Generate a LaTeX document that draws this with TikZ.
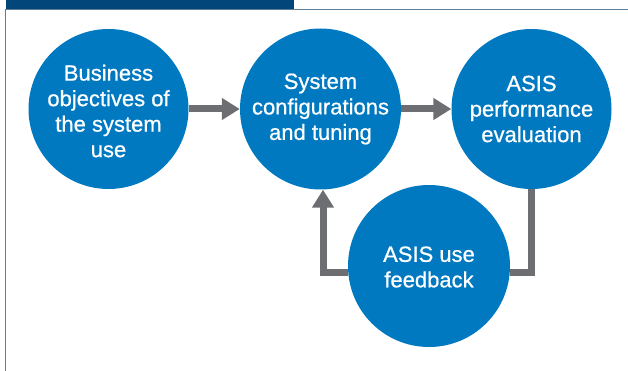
\documentclass[tikz,border=0pt]{standalone}
\usepackage{fontspec}
\setmainfont{Liberation Sans}
\newfontfamily\labelfont{Liberation Sans}[RawFeature={embolden=0.7}]
\usetikzlibrary{arrows.meta}
\definecolor{bubbleblue}{HTML}{0079C1}
\definecolor{flowgray}{HTML}{6D6E71}
\definecolor{barnavy}{HTML}{03467A}
\definecolor{rulegray}{HTML}{5F7F99}
\tikzset{
  bubble/.style={circle, fill=bubbleblue, draw=none, inner sep=0pt, minimum size=#1},
  bubble/.default=160pt,
  bubbletext/.style={text=white, align=center, font=\labelfont\fontsize{22}{25.5}\selectfont},
  flow/.style={draw=flowgray, line width=7pt},
  flowtip/.style={-{Triangle[length=18pt,width=21pt]}},
}
\begin{document}
\begin{tikzpicture}[x=1pt,y=-1pt]
  \useasboundingbox (0,0) rectangle (628,371);
  % frame: heading bar, top rule and left rule
  \fill[barnavy] (5.5,0) rectangle (294,8.6);
  \draw[rulegray, line width=1.3pt] (5,9.4) -- (628,9.4);
  \draw[rulegray, line width=1.4pt] (5.6,9) -- (5.6,371);

  % process stages
  \node[bubble] (c1) at (108.5,109) {};
  \node[bubble=161pt] (c2) at (320.5,109) {};
  \node[bubble] (c3) at (531.5,109) {};
  \node[bubble=162pt] (c4) at (429,266) {};

  % connectors
  \draw[flow, flowtip] (c1.east) -- (c2.west);
  \draw[flow, flowtip] (c2.east) -- (c3.west);
  \draw[flow, flowtip] ([yshift=-6pt]c4.west) -| ([xshift=2.5pt]c2.south);
  \draw[flow] (c3.south) |- ([yshift=-6pt]c4.east);

  % labels
  \node[bubbletext] (t1) at ([yshift=-2pt]c1.center) {Business\\objectives of\\the system\\use};
  \node[bubbletext] (t2) at (c2.center) {System\\configurations\\and tuning};
  \node[bubbletext] (t3) at (c3.center) {ASIS\\performance\\evaluation};
  \node[bubbletext] (t4) at ([yshift=-1pt]c4.center) {ASIS use\\feedback};
\end{tikzpicture}
\end{document}
